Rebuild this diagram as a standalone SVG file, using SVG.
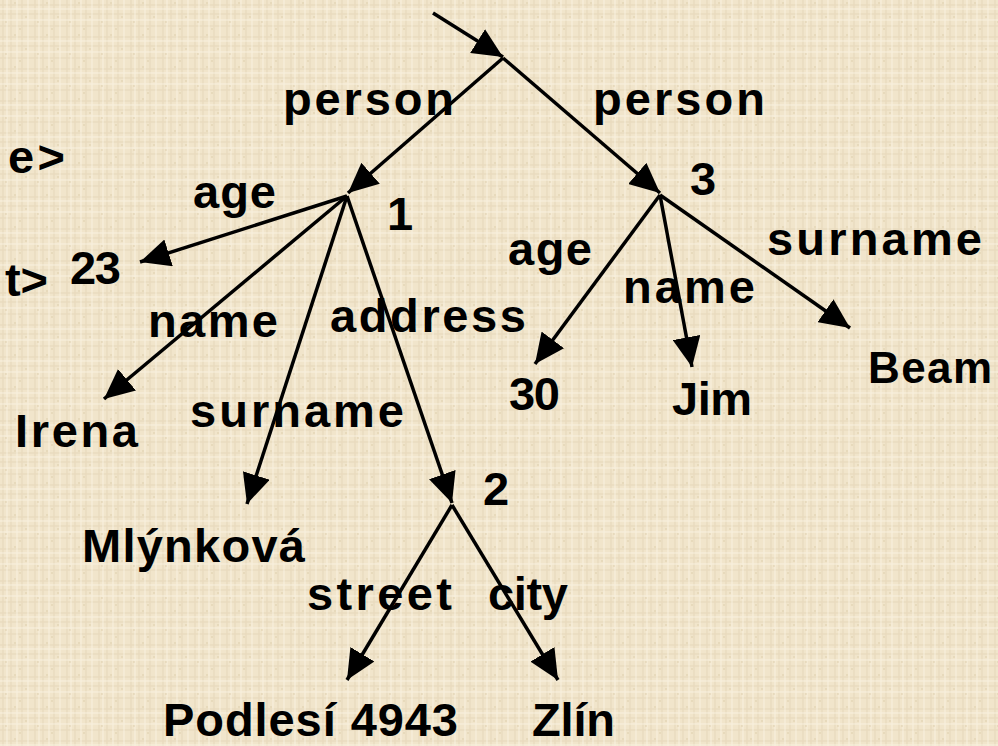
<svg xmlns="http://www.w3.org/2000/svg" width="998" height="746" viewBox="0 0 998 746">
  <defs>
    <style>
      .lbl { font-family: "Liberation Sans", Arial, sans-serif; font-weight: bold; font-size: 47px; fill: #000; }
      .edge { stroke: #000; stroke-width: 3.5; fill: none; marker-end: url(#ah); }
    </style>
    <marker id="ah" markerUnits="userSpaceOnUse" markerWidth="30" markerHeight="28" refX="30" refY="14" orient="auto">
      <path d="M0,0 L30,14 L0,28 z" fill="#000"/>
    </marker>
    <pattern id="tex" width="32" height="32" patternUnits="userSpaceOnUse">
      <rect width="32" height="32" fill="#f1e5cb"/>
      <path d="M3,0 V32 M11,0 V32 M22,0 V32 M0,5 H32 M0,14 H32 M0,26 H32" stroke="#d9c7a5" stroke-width="1" opacity="0.45"/>
      <path d="M7,0 V32 M17,0 V32 M28,0 V32 M0,9 H32 M0,20 H32" stroke="#fbf5e8" stroke-width="1" opacity="0.7"/>
      <path d="M14,3 h2 M25,17 h2 M5,22 h2 M19,29 h2" stroke="#c9b690" stroke-width="1" opacity="0.5"/>
    </pattern>
  </defs>
  <rect width="998" height="746" fill="url(#tex)"/>

  <g id="connectors">
    <path class="edge" d="M433,13 L503,57"/>
    <path class="edge" d="M503,58 L348,193"/>
    <path class="edge" d="M503,58 L660,193"/>
    <path class="edge" d="M347,196 L140,262"/>
    <path class="edge" d="M347,196 L104,399"/>
    <path class="edge" d="M347,196 L247,504"/>
    <path class="edge" d="M347,196 L452,503"/>
    <path class="edge" d="M452,505 L347,680"/>
    <path class="edge" d="M452,505 L558,680"/>
    <path class="edge" d="M660,195 L535,364"/>
    <path class="edge" d="M660,195 L692,367"/>
    <path class="edge" d="M660,195 L850,328"/>
  </g>

  <g id="edge-labels">
    <text class="lbl" x="283" y="115" textLength="171" lengthAdjust="spacing">person</text>
    <text class="lbl" x="593" y="115" textLength="172" lengthAdjust="spacing">person</text>
    <text class="lbl" x="193" y="208" textLength="83" lengthAdjust="spacing">age</text>
    <text class="lbl" x="148" y="337" textLength="130" lengthAdjust="spacing">name</text>
    <text class="lbl" x="330" y="332" textLength="196" lengthAdjust="spacing">address</text>
    <text class="lbl" x="190" y="427" textLength="214" lengthAdjust="spacing">surname</text>
    <text class="lbl" x="508" y="265" textLength="84" lengthAdjust="spacing">age</text>
    <text class="lbl" x="623" y="303" textLength="132" lengthAdjust="spacing">name</text>
    <text class="lbl" x="767" y="255" textLength="215" lengthAdjust="spacing">surname</text>
    <text class="lbl" x="307" y="610" textLength="145" lengthAdjust="spacing">street</text>
    <text class="lbl" x="488" y="610" textLength="80" lengthAdjust="spacing">city</text>
  </g>

  <g id="side-text-e">
    <text class="lbl" x="8" y="173" textLength="57" lengthAdjust="spacing">e&gt;</text>
  </g>
  <g id="side-text-t">
    <text class="lbl" x="5" y="296" textLength="43" lengthAdjust="spacing">t&gt;</text>
  </g>

  <g id="node-1"><text class="lbl" x="387" y="230">1</text></g>
  <g id="node-2"><text class="lbl" x="483" y="505">2</text></g>
  <g id="node-3"><text class="lbl" x="690" y="195">3</text></g>

  <g id="val-23"><text class="lbl" x="70" y="284" textLength="51" lengthAdjust="spacing">23</text></g>
  <g id="val-irena"><text class="lbl" x="15" y="447" textLength="123" lengthAdjust="spacing">Irena</text></g>
  <g id="val-mlynkova"><text class="lbl" x="82" y="562" textLength="223" lengthAdjust="spacing">Mlýnková</text></g>
  <g id="val-podlesi"><text class="lbl" x="163" y="736" textLength="295" lengthAdjust="spacing">Podlesí 4943</text></g>
  <g id="val-zlin"><text class="lbl" x="532" y="736" textLength="83" lengthAdjust="spacing">Zlín</text></g>
  <g id="val-30"><text class="lbl" x="509" y="410" textLength="51" lengthAdjust="spacing">30</text></g>
  <g id="val-jim"><text class="lbl" x="672" y="415" textLength="80" lengthAdjust="spacing">Jim</text></g>
  <g id="val-beam"><text class="lbl" x="868" y="383" style="font-size:44px" textLength="124" lengthAdjust="spacing">Beam</text></g>
</svg>
